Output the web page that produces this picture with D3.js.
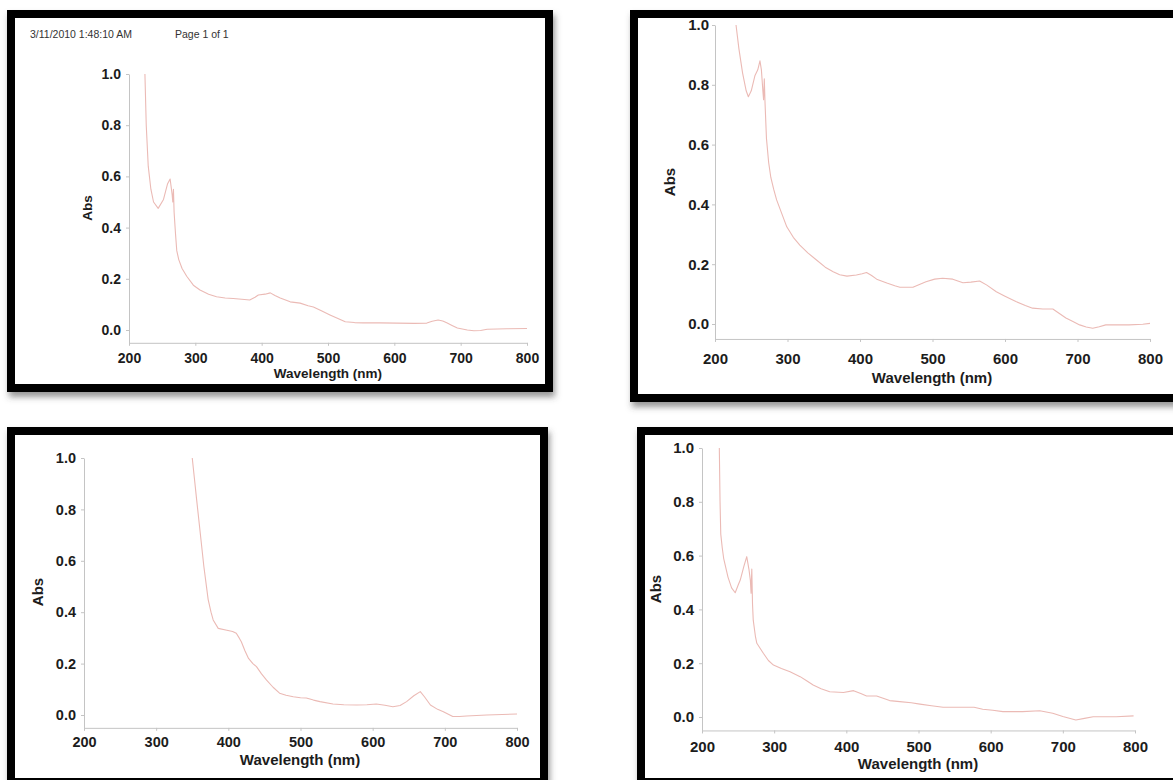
<!DOCTYPE html>
<html><head><meta charset="utf-8">
<script src="https://cdn.jsdelivr.net/npm/d3@7"></script>
<style>
body{margin:0;background:#fff;}
text{font-family:"Liberation Sans",Arial,sans-serif;}
</style>
</head><body>
<svg id="c" width="1173" height="780"></svg>
<script>
// ---- tick labels & texts ----
const xTicks = [200, 300, 400, 500, 600, 700, 800];
const yTicks = [0.0, 0.2, 0.4, 0.6, 0.8, 1.0];
const xLabel = "Wavelength (nm)";
const yLabel = "Abs";
const headerDate = "3/11/2010 1:48:10 AM";
const headerPage = "Page 1 of 1";

// ---- spectrum 1 (top-left) ----
const wl1  = [224,226,229,233,237,244,252,258,262,265,266,267,268,270,272,275,280,287,297,307,320,332,345,357,370,382,390,395,405,413,420,428,443,458,470,478,490,503,515,526,540,553,578,604,630,649,657,666,673,679,687,695,710,720,730,740,770,800];
const abs1 = [1.0,0.80,0.64,0.55,0.50,0.475,0.51,0.57,0.59,0.53,0.50,0.55,0.46,0.38,0.31,0.275,0.24,0.21,0.175,0.156,0.14,0.13,0.125,0.123,0.12,0.117,0.128,0.137,0.14,0.145,0.135,0.125,0.11,0.105,0.095,0.09,0.075,0.059,0.045,0.032,0.029,0.028,0.028,0.027,0.026,0.027,0.034,0.039,0.035,0.028,0.018,0.008,0.0,-0.003,-0.002,0.003,0.005,0.006];

// ---- spectrum 2 (top-right) ----
const wl2  = [229,233,238,243,246,250,255,259,262,264,266,267,268,269,271,274,277,281,285,292,299,308,317,328,340,352,363,372,382,395,403,409,416,423,437,448,455,473,482,491,503,514,528,542,553,565,575,588,600,615,628,638,652,666,675,684,693,703,712,721,730,739,771,790,800];
const abs2 = [1.0,0.92,0.84,0.78,0.76,0.78,0.83,0.85,0.88,0.85,0.78,0.75,0.82,0.74,0.62,0.54,0.49,0.45,0.415,0.37,0.325,0.29,0.264,0.238,0.214,0.19,0.175,0.165,0.16,0.164,0.168,0.172,0.162,0.15,0.137,0.128,0.123,0.123,0.132,0.141,0.15,0.153,0.15,0.138,0.14,0.144,0.13,0.108,0.093,0.075,0.062,0.053,0.05,0.05,0.035,0.02,0.009,-0.003,-0.01,-0.014,-0.009,-0.003,-0.003,-0.001,0.002];

// ---- spectrum 3 (bottom-left) ----
const wl3  = [350,353,356,361,366,372,376,379,386,398,406,411,415,418,423,428,434,439,446,453,462,471,480,490,500,508,518,527,545,560,578,592,605,617,628,638,647,657,666,672,680,690,698,711,720,730,758,800];
const abs3 = [1.0,0.92,0.84,0.71,0.58,0.45,0.40,0.37,0.337,0.33,0.325,0.318,0.30,0.285,0.25,0.22,0.20,0.188,0.16,0.136,0.108,0.085,0.077,0.071,0.067,0.066,0.058,0.052,0.043,0.040,0.039,0.040,0.043,0.038,0.032,0.037,0.052,0.075,0.091,0.07,0.039,0.022,0.013,-0.006,-0.006,-0.004,0.0,0.004];

// ---- spectrum 4 (bottom-right) ----
const wl4  = [224,225,226,228,230,236,241,246,250,253,258,262,265,267,268,269,270,271,274,276,285,292,299,310,322,336,345,354,365,377,396,410,420,428,442,451,460,474,490,502,518,534,550,566,577,589,603,617,644,668,686,700,718,730,742,774,798];
const abs4 = [1.0,0.80,0.68,0.63,0.59,0.52,0.48,0.462,0.49,0.509,0.56,0.596,0.55,0.509,0.46,0.55,0.42,0.36,0.30,0.274,0.237,0.21,0.193,0.18,0.168,0.15,0.135,0.119,0.105,0.094,0.091,0.098,0.087,0.078,0.078,0.07,0.061,0.057,0.053,0.048,0.042,0.036,0.036,0.036,0.036,0.029,0.025,0.02,0.02,0.023,0.014,0.002,-0.011,-0.005,0.001,0.001,0.004];

// ---- layout (positions only) ----
const panels = [
  {wl: wl1, ab: abs1, frame:[7,10,553,392],  xr:[129,527],  y0:330, y1:74,  fs:14,   ts:13.5, tickCY:358, title:[328,373], abs:[87,208],  yGap:8, header:true},
  {wl: wl2, ab: abs2, frame:[630,10,1182,402], xr:[715,1150], y0:324, y1:25,  fs:15,   ts:15,   tickCY:359, title:[932,377], abs:[669,182], yGap:6},
  {wl: wl3, ab: abs3, frame:[7,427,548,786],  xr:[84,517],   y0:715, y1:458, fs:14.5, ts:15,   tickCY:742, title:[300,759], abs:[37,592],  yGap:8},
  {wl: wl4, ab: abs4, frame:[637,427,1182,786], xr:[702,1135], y0:717, y1:448, fs:15,   ts:15,   tickCY:747, title:[918,763], abs:[655,589], yGap:8}
];

const svg = d3.select("#c");
const defs = svg.append("defs");
const f = defs.append("filter").attr("id","sh").attr("x","-5%").attr("y","-5%").attr("width","115%").attr("height","115%");
f.append("feDropShadow").attr("dx",2).attr("dy",5).attr("stdDeviation",3).attr("flood-color","#444").attr("flood-opacity",0.55);

const axisColor = "#c4c4c4";
const lineColor = "#ebbab5";
const textColor = "#1c1c1c";

panels.forEach(p => {
  const [fx0, fy0, fx1, fy1] = p.frame;
  svg.append("rect")
    .attr("x", fx0 + 4).attr("y", fy0 + 4)
    .attr("width", fx1 - fx0 - 8).attr("height", fy1 - fy0 - 8)
    .attr("fill", "#fff").attr("stroke", "#000").attr("stroke-width", 8)
    .attr("filter", "url(#sh)");
});

panels.forEach(p => {
  const x = d3.scaleLinear().domain([200, 800]).range(p.xr);
  const yBase = d3.scaleLinear().domain([0, 1]).range([p.y0, p.y1]);
  const yMin = -0.05;
  const y = d3.scaleLinear().domain([yMin, 1]).range([yBase(yMin), p.y1]);
  const g = svg.append("g");
  const axisY = yBase(yMin);

  // x axis
  const xa = g.append("g").attr("transform", `translate(0,${axisY})`)
    .call(d3.axisBottom(x).tickValues(xTicks).tickSize(3).tickSizeOuter(0).tickFormat(d3.format("d")));
  xa.select(".domain").attr("stroke", axisColor);
  xa.selectAll(".tick line").attr("stroke", axisColor);
  xa.selectAll(".tick text")
    .attr("y", p.tickCY - axisY - 0.36 * p.fs)
    .attr("font-size", p.fs).attr("font-weight", "bold").attr("fill", textColor)
    .attr("font-family", "Liberation Sans, Arial, sans-serif");

  // y axis
  const ya = g.append("g").attr("transform", `translate(${p.xr[0]},0)`)
    .call(d3.axisLeft(y).tickValues(yTicks).tickSize(3).tickSizeOuter(0).tickFormat(d3.format(".1f")));
  ya.select(".domain").attr("stroke", axisColor);
  ya.selectAll(".tick line").attr("stroke", axisColor);
  ya.selectAll(".tick text")
    .attr("x", -p.yGap)
    .attr("font-size", p.fs).attr("font-weight", "bold").attr("fill", textColor)
    .attr("font-family", "Liberation Sans, Arial, sans-serif");

  // titles
  g.append("text").attr("x", p.title[0]).attr("y", p.title[1])
    .attr("text-anchor", "middle").attr("dominant-baseline", "central")
    .attr("font-size", p.ts).attr("font-weight", "bold").attr("fill", textColor)
    .text(xLabel);
  g.append("text")
    .attr("transform", `translate(${p.abs[0]},${p.abs[1]}) rotate(-90)`)
    .attr("text-anchor", "middle").attr("dominant-baseline", "central")
    .attr("font-size", p.ts).attr("font-weight", "bold").attr("fill", textColor)
    .text(yLabel);

  // spectrum line
  const pts = p.wl.map((w, i) => [w, p.ab[i]]);
  g.append("path").datum(pts)
    .attr("fill", "none").attr("stroke", lineColor).attr("stroke-width", 1.1)
    .attr("stroke-linejoin", "round")
    .attr("d", d3.line().x(d => x(d[0])).y(d => y(d[1])));

  if (p.header) {
    g.append("text").attr("x", 30).attr("y", 38)
      .attr("font-size", 10.5).attr("fill", "#333").text(headerDate);
    g.append("text").attr("x", 175).attr("y", 38)
      .attr("font-size", 10.5).attr("fill", "#333").text(headerPage);
  }
});
</script>
</body></html>
